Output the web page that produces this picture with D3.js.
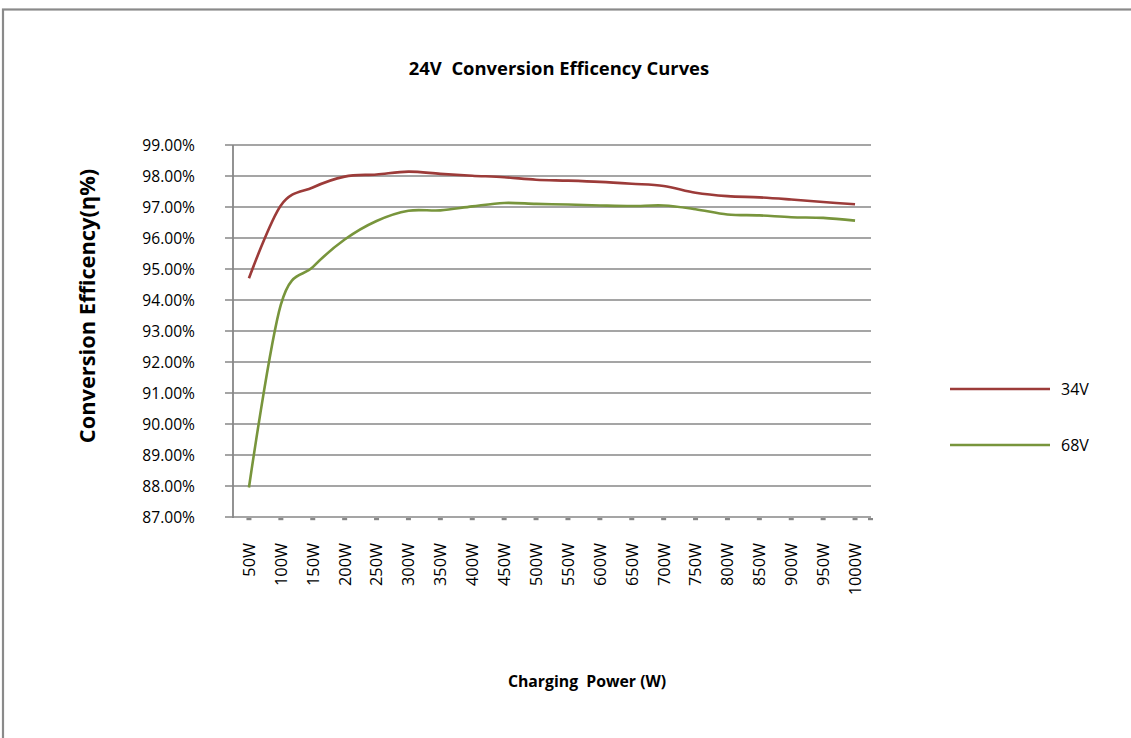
<!DOCTYPE html>
<html>
<head>
<meta charset="utf-8">
<script src="https://cdn.jsdelivr.net/npm/d3@7"></script>
<style>
  html, body { margin: 0; padding: 0; background: #fff; }
  svg { display: block; }
  text { font-family: "Open Sans", "Noto Sans", sans-serif; fill: #000; }
</style>
</head>
<body>
<svg id="chart" width="1131" height="738"></svg>
<script>
// ---- data ----
const categories = ["50W","100W","150W","200W","250W","300W","350W","400W","450W","500W",
                    "550W","600W","650W","700W","750W","800W","850W","900W","950W","1000W"];
const eff34V = [94.70, 97.05, 97.63, 97.98, 98.05, 98.14, 98.07, 98.01, 97.96, 97.88,
                97.85, 97.81, 97.75, 97.68, 97.46, 97.35, 97.31, 97.24, 97.16, 97.09];
const eff68V = [87.95, 93.85, 95.06, 95.95, 96.55, 96.88, 96.89, 97.02, 97.13, 97.10,
                97.08, 97.05, 97.03, 97.05, 96.93, 96.76, 96.73, 96.67, 96.65, 96.56];
const seriesNames = ["34V", "68V"];
const seriesColors = ["#9c3b39", "#78953c"];
const yTickValues = [87, 88, 89, 90, 91, 92, 93, 94, 95, 96, 97, 98, 99];
const titleText = "24V  Conversion Efficency Curves";
const yTitleText = "Conversion Efficency(\u03b7%)";
const xTitleText = "Charging  Power (W)";

// ---- layout ----
const svg = d3.select("#chart");
const plot = { left: 233, right: 871, top: 145, bottom: 517 };
const gridColor = "#878787";

// outer frame
svg.append("rect")
  .attr("x", 3).attr("y", 9.5).attr("width", 1300).attr("height", 900)
  .attr("fill", "none").attr("stroke", "#8a8a8a").attr("stroke-width", 2.2);

const x = d3.scaleBand().domain(categories).range([plot.left, plot.right]).padding(0);
const xc = d => x(d) + x.bandwidth() / 2;
const y = d3.scaleLinear().domain([87, 99]).range([plot.bottom, plot.top]);

// gridlines
svg.append("g").selectAll("line")
  .data(yTickValues)
  .join("line")
  .attr("x1", plot.left - 8).attr("x2", plot.right)
  .attr("y1", d => y(d)).attr("y2", d => y(d))
  .attr("stroke", gridColor).attr("stroke-width", 1.6);

// y axis labels
const yAxis = svg.append("g")
  .attr("transform", `translate(${plot.left},0)`)
  .call(d3.axisLeft(y).tickValues(yTickValues).tickFormat(d => d.toFixed(2) + "%").tickSize(0).tickPadding(38));
yAxis.select(".domain").remove();
yAxis.selectAll("text").style("font-size", "15.6px").attr("fill", "#000");

// y axis line
svg.append("line")
  .attr("x1", plot.left).attr("x2", plot.left)
  .attr("y1", plot.top).attr("y2", plot.bottom + 1)
  .attr("stroke", gridColor).attr("stroke-width", 1.8);

// x axis
const xAxis = svg.append("g")
  .attr("transform", `translate(0,${plot.bottom})`)
  .call(d3.axisBottom(x).tickSize(0));
xAxis.select(".domain").remove();
xAxis.selectAll(".tick line").remove();
xAxis.selectAll("text")
  .style("font-size", "16.3px")
  .attr("fill", "#000")
  .attr("transform", "rotate(-90)")
  .attr("x", -26).attr("y", 0).attr("dy", "0.36em")
  .style("text-anchor", "end");

// x tick dashes
svg.append("g").selectAll("rect")
  .data(categories)
  .join("rect")
  .attr("x", d => xc(d) - 2.5).attr("y", plot.bottom + 1)
  .attr("width", 5).attr("height", 2.2)
  .attr("fill", gridColor);
svg.append("rect")
  .attr("x", plot.right - 3).attr("y", plot.bottom + 1)
  .attr("width", 5).attr("height", 2.2).attr("fill", gridColor);

// lines
const line = d3.line()
  .x((d, i) => xc(categories[i]))
  .y(d => y(d))
  .curve(d3.curveCatmullRom.alpha(0));

[eff34V, eff68V].forEach((s, k) => {
  svg.append("path")
    .datum(s)
    .attr("d", line)
    .attr("fill", "none")
    .attr("stroke", seriesColors[k])
    .attr("stroke-width", 2.6)
    .attr("stroke-linejoin", "round");
});

// title
svg.append("text")
  .attr("x", 559).attr("y", 75)
  .attr("text-anchor", "middle")
  .style("white-space", "pre")
  .style("font-size", "18.4px").style("font-weight", "bold")
  .text(titleText);

// y title
svg.append("text")
  .attr("transform", "translate(95,306) rotate(-90)")
  .attr("text-anchor", "middle")
  .style("font-size", "21.8px").style("font-weight", "bold")
  .text(yTitleText);

// x title
svg.append("text")
  .attr("x", 587).attr("y", 687)
  .attr("text-anchor", "middle")
  .style("white-space", "pre")
  .style("font-size", "15.8px").style("font-weight", "bold")
  .text(xTitleText);

// legend
const legendY = [389, 445];
const lg = svg.append("g").selectAll("g")
  .data(seriesNames)
  .join("g")
  .attr("transform", (d, i) => `translate(950,${legendY[i]})`);
lg.append("line")
  .attr("x1", 0).attr("x2", 100).attr("y1", 0).attr("y2", 0)
  .attr("stroke", (d, i) => seriesColors[i]).attr("stroke-width", 2.6);
lg.append("text")
  .attr("x", 111).attr("y", 0).attr("dy", "0.36em")
  .style("font-size", "16px")
  .text(d => d);
</script>
</body>
</html>
